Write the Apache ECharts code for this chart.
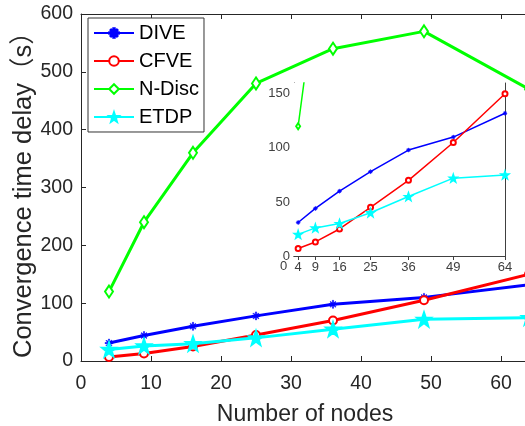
<!DOCTYPE html>
<html><head><meta charset="utf-8">
<script src="https://cdn.jsdelivr.net/npm/echarts@6/dist/echarts.min.js"></script>
<style>html,body{margin:0;padding:0;background:#fff}#c{width:525px;height:426px}</style>
</head><body><div id="c"></div><script>
const nodes=[4,9,16,25,36,49,64];
const dive=[31,44,60,78,98,110,132];
const cfve=[7,13,25,45,70,105,150];
const ndisc=[120,240,360,480,540,570,470];
const etdp=[20,26,30,40,55,72,75];
const mainXTicks=[0,10,20,30,40,50,60];
const mainYTicks=[0,100,200,300,400,500,600];
const insetXTicks=[4,9,16,25,36,49,64];
const insetYTicks=[0,50,100,150];
const names=['DIVE','CFVE','N-Disc','ETDP'];
const colors=['#0000ff','#ff0000','#00ff00','#00ffff'];
const values=[dive,cfve,ndisc,etdp];
const yTitle='Convergence time delay（s）';
const xTitle='Number of nodes';

const FONT='Liberation Sans, Arial, Noto Sans CJK SC, sans-serif';
const AX='#262626';
const STAR='path://M0,-10 L2.35,-3.24 9.51,-3.09 3.8,1.24 5.88,8.09 0,4 -5.88,8.09 -3.8,1.24 -9.51,-3.09 -2.35,-3.24Z';
const AST='path://M-10,-1.5 L10,-1.5 L10,1.5 L-10,1.5 Z M-1.5,-10 L1.5,-10 L1.5,10 L-1.5,10 Z M-7.5,-6 L-6,-7.5 L7.5,6 L6,7.5 Z M6,-7.5 L7.5,-6 L-6,7.5 L-7.5,6 Z';
const symbols=[AST,'emptyCircle','emptyDiamond',STAR];
const mainSizes=[8,8,[8,12],14];
const insetSizes=[4,5,[4,6],8];
const pairs=v=>nodes.map((x,i)=>[x,v[i]]);

const series=[];
names.forEach((n,k)=>{
  series.push({name:n,type:'line',xAxisIndex:0,yAxisIndex:0,data:pairs(values[k]),
    symbol:symbols[k],symbolSize:mainSizes[k],showAllSymbol:true,
    lineStyle:{color:colors[k],width:3},itemStyle:{color:colors[k],borderColor:colors[k],borderWidth:k===0?0.5:2},z:3});
});
names.forEach((n,k)=>{
  series.push({name:n+' ','type':'line',xAxisIndex:2,yAxisIndex:1,data:pairs(values[k]),
    symbol:symbols[k],symbolSize:insetSizes[k],showAllSymbol:true,clip:true,
    lineStyle:{color:colors[k],width:1.5},itemStyle:{color:colors[k],borderColor:colors[k],borderWidth:k===0?0.5:1.5},z:12});
});

const chart=echarts.init(document.getElementById('c'));
chart.setOption({
  animation:false,
  backgroundColor:'#fff',
  grid:[
    {left:81,top:14,right:-4,bottom:65,containLabel:false,outerBoundsMode:'none'},
    {left:294,top:83,right:20,bottom:170,show:true,backgroundColor:'#fff',borderWidth:0,z:10,containLabel:false,outerBoundsMode:'none'}
  ],
  legend:{data:names,orient:'vertical',left:88,top:18,padding:[5,5,5,5],itemGap:8,itemWidth:40,itemHeight:12,
    borderColor:'#333',borderWidth:1,backgroundColor:'#fff',
    textStyle:{fontSize:20,fontFamily:FONT,color:'#000'},z:20},
  xAxis:[
    {type:'value',gridIndex:0,min:0,max:64,interval:10,position:'bottom',
     name:xTitle,nameLocation:'middle',nameGap:42,
     nameTextStyle:{fontSize:23,fontFamily:FONT,color:AX},
     axisLine:{lineStyle:{color:AX}},axisTick:{inside:true,length:5,customValues:mainXTicks,lineStyle:{color:AX}},
     axisLabel:{customValues:mainXTicks,fontSize:19.5,fontFamily:FONT,color:AX,margin:13},splitLine:{show:false}},
    {type:'value',gridIndex:0,min:0,max:64,interval:10,position:'top',
     axisLine:{lineStyle:{color:AX}},axisTick:{inside:true,length:5,customValues:mainXTicks,lineStyle:{color:AX}},
     axisLabel:{show:false},splitLine:{show:false}},
    {type:'value',gridIndex:1,min:2.8,max:64,position:'bottom',
     axisLine:{lineStyle:{color:'#404040'}},axisTick:{inside:true,length:4,customValues:insetXTicks,lineStyle:{color:'#404040'}},
     axisLabel:{customValues:insetXTicks,fontSize:13,fontFamily:FONT,color:'#404040',margin:5},splitLine:{show:false}},
    {type:'value',gridIndex:1,min:2.8,max:64,position:'top',
     axisLine:{lineStyle:{color:'#404040'}},axisTick:{inside:true,length:4,customValues:insetXTicks,lineStyle:{color:'#404040'}},
     axisLabel:{show:false},splitLine:{show:false}}
  ],
  yAxis:[
    {type:'value',gridIndex:0,min:0,max:600,interval:100,position:'left',
     axisLine:{show:true,lineStyle:{color:AX}},axisTick:{show:true,inside:true,length:5,lineStyle:{color:AX}},
     axisLabel:{customValues:mainYTicks,fontSize:19.5,fontFamily:FONT,color:AX,margin:8},splitLine:{show:false}},
    {type:'value',gridIndex:1,min:0,max:160,position:'left',
     axisLine:{show:true,lineStyle:{color:'#404040'}},axisTick:{show:true,inside:true,length:4,customValues:insetYTicks,lineStyle:{color:'#404040'}},
     axisLabel:{customValues:insetYTicks,fontSize:13,fontFamily:FONT,color:'#404040',margin:4},splitLine:{show:false}},
    {type:'value',gridIndex:1,min:0,max:160,position:'right',
     axisLine:{show:true,lineStyle:{color:'#404040'}},axisTick:{show:true,inside:true,length:4,customValues:insetYTicks,lineStyle:{color:'#404040'}},
     axisLabel:{show:false},splitLine:{show:false}}
  ],
  graphic:[
    {type:'text',left:280,top:260,z:30,style:{text:'0',fontSize:13,fontFamily:FONT,fill:'#404040'}},
    {type:'text',x:23.5,y:358,rotation:Math.PI/2,z:30,
     style:{text:yTitle,fontSize:25.5,fontFamily:FONT,fill:AX,align:'left',verticalAlign:'middle'}}
  ],
  series:series
});
</script></body></html>
